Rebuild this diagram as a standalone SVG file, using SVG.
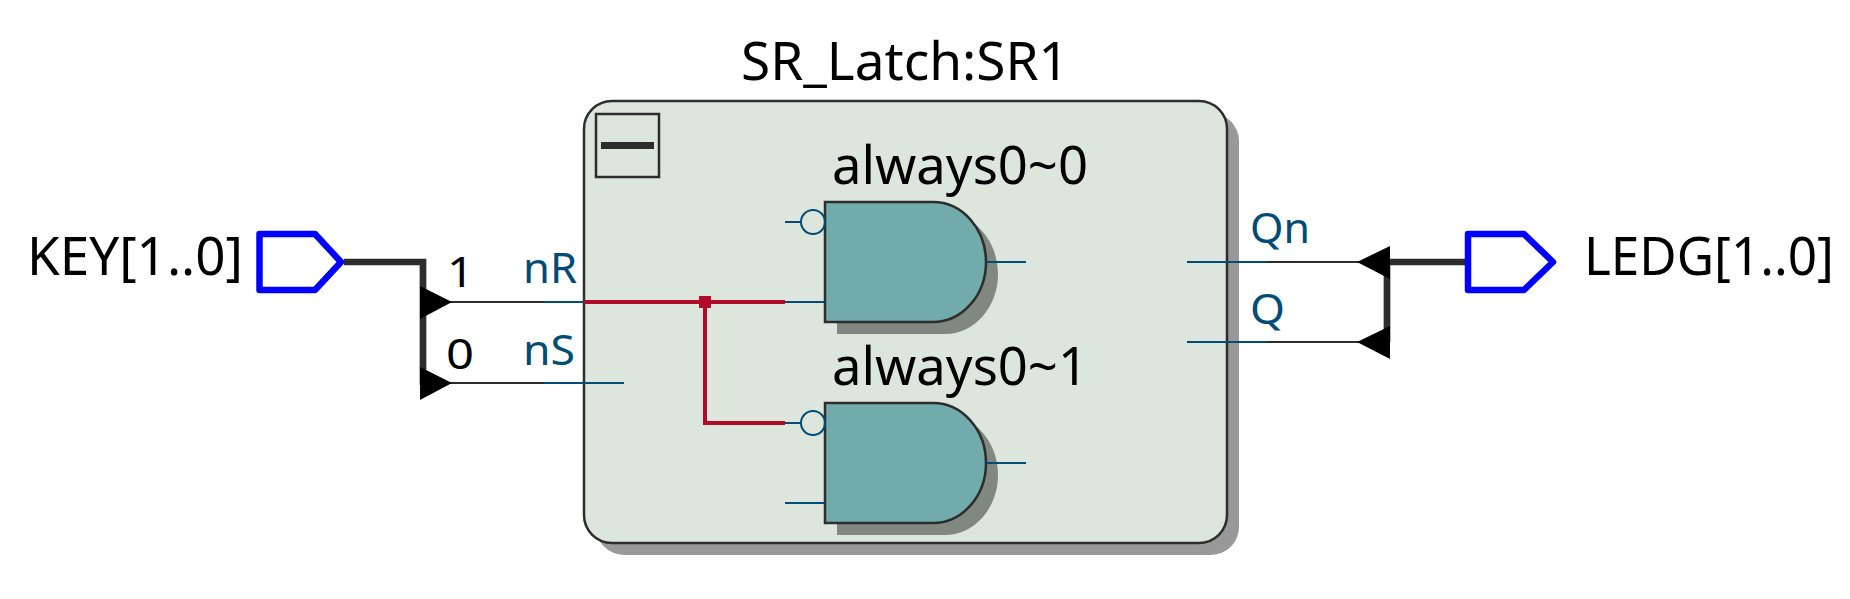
<svg xmlns="http://www.w3.org/2000/svg" width="1850" height="599" viewBox="0 0 1850 599">
<defs>
<style>
text{font-family:"Noto Sans","Open Sans",sans-serif}
.lab{font-size:52px;fill:#000}
.port{font-size:41px;fill:#004c75}
.bit{font-size:41px;fill:#000}
.pin{fill:#fff;stroke:#0000ff;stroke-width:6.500;stroke-linejoin:round}
.gate{fill:#72abab;stroke:#2d2d2d;stroke-width:2.500}
.gsh{fill:#808880}
.th{fill:none;stroke:#2d2d2d;stroke-width:2}
.bl{fill:none;stroke:#004c75;stroke-width:2}
.rd{fill:none;stroke:#b00c2a;stroke-width:4}
.bus{fill:none;stroke:#2d2d2d;stroke-width:6.700}
.tri{fill:#000}
</style>
<g id="andgate">
<path class="gsh" d="M837 214H945A53 60 0 0 1 945 334H837Z"/>
<path class="gate" d="M825 202H933A53 60 0 0 1 933 322H825Z"/>
</g>
</defs>
<g id="SR1">
<path d="M596 113H1211A28 28 0 0 1 1239 141V527A28 28 0 0 1 1211 555H624A28 28 0 0 1 596 527Z" fill="#999999"/>
<rect x="584" y="101" width="643" height="442" rx="28" ry="28" fill="#dde6dd" stroke="#2d2d2d" stroke-width="2.500"/>
<rect x="596" y="114" width="63" height="63" fill="none" stroke="#2d2d2d" stroke-width="2.500"/>
<rect x="601" y="142" width="53" height="7" fill="#2d2d2d"/>
<text class="lab" x="741" y="80" textLength="328" lengthAdjust="spacingAndGlyphs">SR_Latch:SR1</text>
</g>
<g id="connectors">
<path class="bus" d="M344 262H423V385"/>
<path class="bus" d="M1467 262H1387V342"/>
<path class="th" d="M450 302H544M450 383H544M1267 262H1360M1267 342H1360"/>
<path class="bl" d="M544 302H584M544 383H624M1187 262H1267M1187 342H1267"/>
<path class="rd" d="M584 302H785M705 302V423H785"/>
<rect x="699" y="296" width="12" height="12" fill="#b00c2a"/>
<polygon class="tri" points="420,286 452,302 420,319"/>
<polygon class="tri" points="420,367 452,383 420,400"/>
<polygon class="tri" points="1390,246 1357,262 1390,279"/>
<polygon class="tri" points="1390,326 1357,342 1390,359"/>
<text class="bit" x="447" y="287" textLength="27" lengthAdjust="spacingAndGlyphs">1</text>
<text class="bit" x="446" y="369" textLength="28" lengthAdjust="spacingAndGlyphs">0</text>
<text class="port" x="523" y="283" textLength="54" lengthAdjust="spacingAndGlyphs">nR</text>
<text class="port" x="523" y="365" textLength="52" lengthAdjust="spacingAndGlyphs">nS</text>
<text class="port" x="1250" y="243" textLength="60" lengthAdjust="spacingAndGlyphs">Qn</text>
<text class="port" x="1250" y="324" textLength="35" lengthAdjust="spacingAndGlyphs">Q</text>
</g>
<g id="KEY">
<path class="pin" d="M259.500 234H315L341 262L315 290H259.500Z"/>
<text class="lab" x="27" y="275" textLength="216" lengthAdjust="spacingAndGlyphs">KEY[1..0]</text>
</g>
<g id="LEDG">
<path class="pin" d="M1468 234H1524L1553 262L1524 290H1468Z"/>
<text class="lab" x="1584" y="275" textLength="250" lengthAdjust="spacingAndGlyphs">LEDG[1..0]</text>
</g>
<g id="always0_0">
<use href="#andgate"/>
<circle cx="813" cy="222" r="12" fill="none" stroke="#004c75" stroke-width="2"/>
<path class="bl" d="M785 222H801M785 302H825M986 262H1026"/>
<text class="lab" x="832" y="184" textLength="256" lengthAdjust="spacingAndGlyphs">always0~0</text>
</g>
<g id="always0_1">
<use href="#andgate" y="201"/>
<circle cx="813" cy="423" r="12" fill="none" stroke="#004c75" stroke-width="2"/>
<path class="bl" d="M785 423H801M785 503H825M986 463H1026"/>
<text class="lab" x="832" y="385" textLength="256" lengthAdjust="spacingAndGlyphs">always0~1</text>
</g>
</svg>
